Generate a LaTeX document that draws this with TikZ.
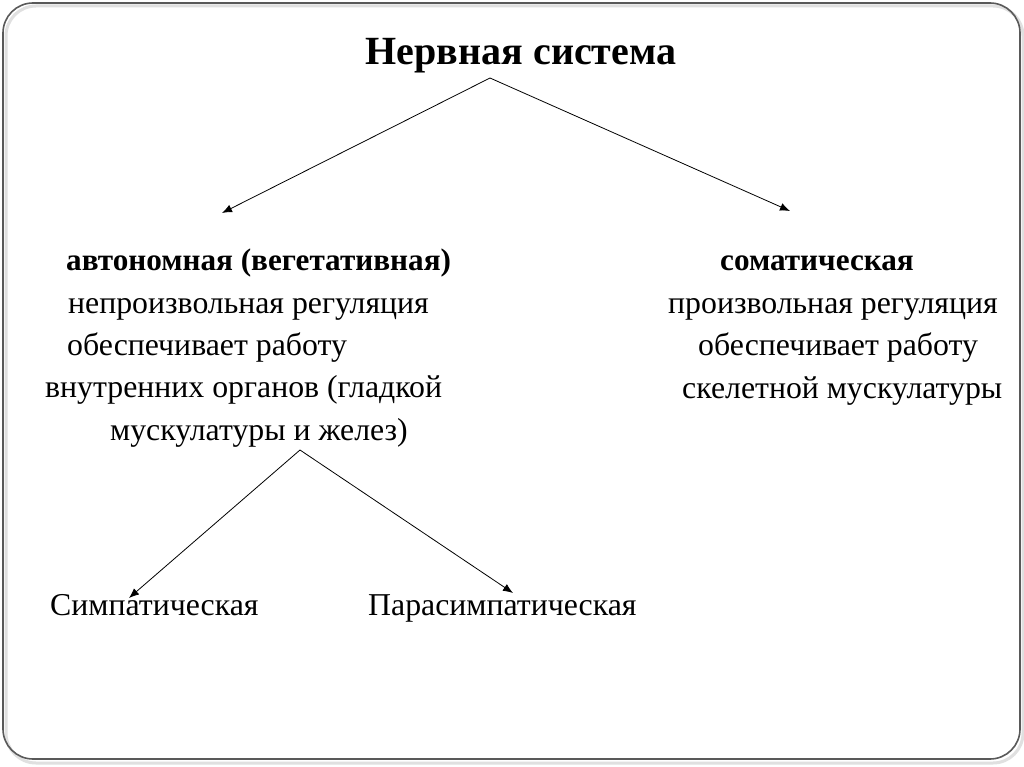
\documentclass[tikz,border=0pt]{standalone}
\usepackage{fontspec}
\setmainfont{Liberation Serif}
\usetikzlibrary{arrows.meta}
\tikzset{
  txt/.style={anchor=base west, inner sep=0pt, font=\fontsize{31.8}{38}\selectfont},
  btxt/.style={txt, font=\fontsize{31.2}{38}\selectfont\bfseries},
  ttl/.style={anchor=base, inner sep=0pt, font=\fontsize{40}{48}\selectfont\bfseries},
  arr/.style={line width=0.8pt, -{Latex[length=10pt,width=8pt]}},
  frame/.style={draw=black!65, line width=1.6pt, rounded corners=30pt},
}
\begin{document}
\begin{tikzpicture}[x=1pt,y=-1pt]
\useasboundingbox (0,0) rectangle (1024,767);
\fill[white] (0,0) rectangle (1024,767);
\draw[black!12, line width=3pt, rounded corners=30pt] (6,6) rectangle (1023,763);
\draw[frame] (3,3) rectangle (1020,759);
\node[ttl] (title) at (521,65) {Нервная система};
\node[btxt] (avt) at (66,270) {автономная (вегетативная)};
\node[txt] (a1) at (68,313) {непроизвольная регуляция};
\node[txt] (a2) at (67,355) {обеспечивает работу};
\node[txt] (a3) at (45,397) {внутренних органов (гладкой};
\node[txt] (a4) at (110,440) {мускулатуры и желез)};
\node[btxt] (som) at (720,270) {соматическая};
\node[txt] (s1) at (668,313) {произвольная регуляция};
\node[txt] (s2) at (698,355) {обеспечивает работу};
\node[txt] (s3) at (682,398) {скелетной мускулатуры};
\node[txt] (sym) at (50,615) {Симпатическая};
\node[txt] (par) at (368,615) {Парасимпатическая};
\coordinate (apex1) at (490,78);
\coordinate (tipA) at (222,213);
\coordinate (tipS) at (790,211);
\coordinate (apex2) at (300,450);
\coordinate (tipSym) at (129,598);
\coordinate (tipPar) at (513,593);
\draw[arr] (apex1) -- (tipA);
\draw[arr] (apex1) -- (tipS);
\draw[arr] (apex2) -- (tipSym);
\draw[arr] (apex2) -- (tipPar);
\end{tikzpicture}
\end{document}
